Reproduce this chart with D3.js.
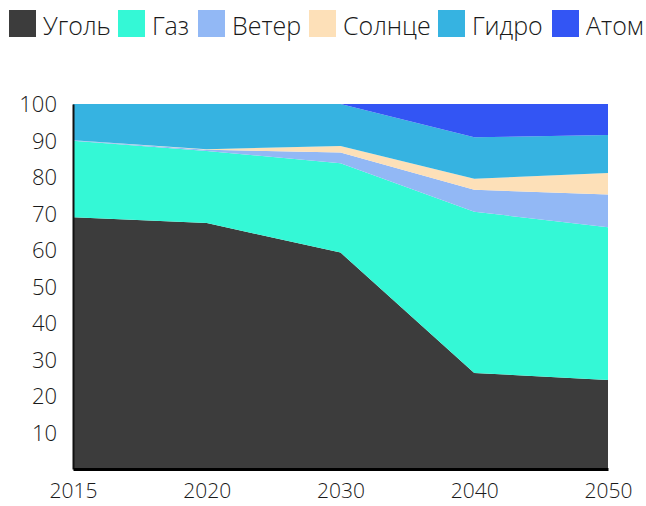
<!DOCTYPE html>
<html>
<head>
<meta charset="utf-8">
<script src="https://cdn.jsdelivr.net/npm/d3@7"></script>
<style>
  body { margin: 0; background: #fff; }
  svg text { font-family: "Open Sans", sans-serif; font-weight: 300; fill: #1a1a1a; }
</style>
</head>
<body>
<div id="chart"></div>
<script>
var years = ["2015", "2020", "2030", "2040", "2050"];
var seriesNames = ["Уголь", "Газ", "Ветер", "Солнце", "Гидро", "Атом"];
var seriesColors = ["#3c3c3c", "#34f8d6", "#92b8f5", "#fde0b8", "#36b3e1", "#3355f4"];
var coal = [69.0, 67.4, 59.3, 26.3, 24.4];
var gas = [20.9, 19.7, 24.5, 44.2, 41.8];
var wind = [0.2, 0.4, 2.9, 6.0, 9.0];
var solar = [0.0, 0.1, 1.8, 3.0, 5.9];
var hydro = [9.9, 12.4, 11.5, 11.4, 10.4];
var nuclear = [0.0, 0.0, 0.0, 9.1, 8.5];
var yTicks = [10, 20, 30, 40, 50, 60, 70, 80, 90, 100];

var allSeries = [coal, gas, wind, solar, hydro, nuclear];

var rows = years.map(function (y, i) {
	var r = { year: y };
	seriesNames.forEach(function (n, k) { r[n] = allSeries[k][i]; });
	return r;
});

var width = 646, height = 506;
var margin = { left: 73, right: 38, top: 104, bottom: 37 };

var svg = d3.select('#chart').append('svg')
	.attr('width', width).attr('height', height);

var x = d3.scalePoint().domain(years).range([margin.left, width - margin.right]);
var y = d3.scaleLinear().domain([0, 100]).range([height - margin.bottom, margin.top]);

var stack = d3.stack().keys(seriesNames);
var layers = stack(rows);

var area = d3.area()
	.x(function (d) { return x(d.data.year); })
	.y0(function (d) { return y(d[0]); })
	.y1(function (d) { return y(d[1]); });

svg.append('g').selectAll('path')
	.data(layers)
	.enter().append('path')
	.attr('fill', function (d, i) { return seriesColors[i]; })
	.attr('d', area);

// axes
var yAxis = svg.append('g')
	.attr('transform', 'translate(' + margin.left + ',0)')
	.call(d3.axisLeft(y).tickValues(yTicks).tickSize(0).tickPadding(16));
yAxis.select('.domain').attr('stroke', '#111').attr('stroke-width', 2);
yAxis.selectAll('text').style('font-size', '22px').attr('dy', '0.35em');

var xAxis = svg.append('g')
	.attr('transform', 'translate(0,' + (height - margin.bottom) + ')')
	.call(d3.axisBottom(x).tickSize(0).tickPadding(14));
xAxis.select('.domain').attr('stroke', '#000').attr('stroke-width', 3);
xAxis.selectAll('text').style('font-size', '21px');

// legend
var legendX = [9, 118, 198, 309, 438, 552];
var legend = svg.append('g').selectAll('g')
	.data(seriesNames)
	.enter().append('g')
	.attr('transform', function (d, i) { return 'translate(' + legendX[i] + ',10)'; });
legend.append('rect')
	.attr('width', 27).attr('height', 27)
	.attr('fill', function (d, i) { return seriesColors[i]; });
legend.append('text')
	.attr('x', 34).attr('y', 25)
	.style('font-size', '25px')
	.text(function (d) { return d; });
</script>
</body>
</html>
